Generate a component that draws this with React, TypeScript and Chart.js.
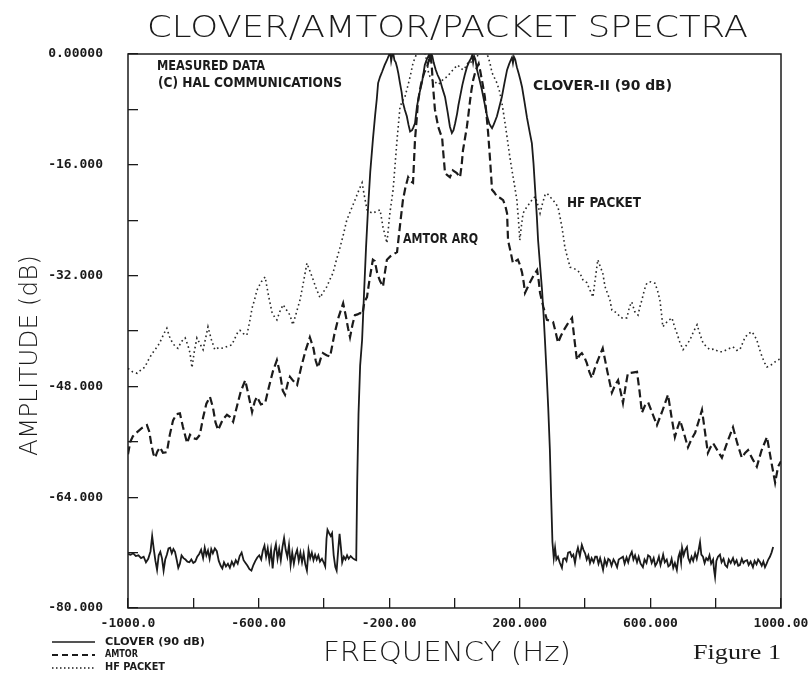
import { useEffect, useRef } from 'react';
import { Chart, registerables } from 'chart.js';

Chart.register(...registerables);

// ---------- tick labels ----------
const xTickValues = [-1000, -600, -200, 200, 600, 1000];
const xTickLabels = ['-1000.0', '-600.00', '-200.00', '200.000', '600.000', '1000.00'];
const yTickValues = [0, -16, -32, -48, -64, -80];
const yTickLabels = ['0.00000', '-16.000', '-32.000', '-48.000', '-64.000', '-80.000'];

// ---------- series: [frequency Hz, amplitude dB] ----------
const cloverSpectrum: [number, number][] = [
  [-1000, -72.2], [-992, -72.3], [-984, -72.1], [-976, -72.5], [-968, -72.4], [-960, -72.8], [-952, -72.6], [-945, -73.4],
  [-938, -72.9], [-931, -71.8], [-926, -69.6], [-921, -71.5], [-916, -73.2], [-911, -74.5], [-906, -72.4], [-901, -71.9],
  [-896, -72.8], [-891, -74.6], [-886, -73.0], [-881, -72.3], [-876, -71.4], [-871, -71.3], [-866, -72.1], [-861, -71.5],
  [-856, -71.9], [-851, -73.0], [-846, -74.2], [-841, -73.6], [-836, -72.4], [-830, -72.8], [-824, -73.0], [-818, -73.3],
  [-812, -73.4], [-806, -73.0], [-800, -73.5], [-794, -73.3], [-788, -72.6], [-782, -72.2], [-776, -71.6], [-770, -72.8],
  [-765, -71.3], [-760, -72.4], [-755, -71.7], [-750, -72.9], [-745, -71.5], [-740, -72.1], [-734, -71.4], [-728, -71.8],
  [-722, -73.2], [-716, -73.9], [-711, -74.3], [-706, -73.4], [-700, -74.0], [-694, -73.6], [-688, -74.2], [-682, -73.3],
  [-676, -73.9], [-670, -73.1], [-664, -73.6], [-658, -72.5], [-652, -72.0], [-646, -73.1], [-640, -73.5], [-634, -73.9],
  [-628, -74.4], [-622, -74.6], [-616, -73.8], [-610, -73.2], [-604, -72.7], [-598, -72.4], [-592, -73.0], [-587, -71.7],
  [-582, -71.0], [-577, -72.6], [-572, -71.4], [-567, -73.2], [-562, -71.6], [-557, -74.3], [-552, -71.8], [-547, -70.8],
  [-542, -72.9], [-537, -71.5], [-532, -73.1], [-527, -71.2], [-522, -69.9], [-517, -71.6], [-512, -72.6], [-507, -70.9],
  [-502, -73.8], [-497, -72.0], [-492, -73.6], [-487, -72.3], [-482, -71.6], [-477, -73.2], [-472, -72.0], [-467, -73.4],
  [-462, -72.1], [-457, -73.7], [-452, -74.6], [-447, -71.6], [-442, -72.8], [-437, -72.0], [-432, -73.1], [-427, -72.3],
  [-422, -73.0], [-417, -72.4], [-412, -73.3], [-406, -72.9], [-400, -73.5], [-396, -74.0], [-392, -70.0], [-389, -68.7],
  [-384, -69.2], [-379, -69.6], [-375, -69.2], [-370, -72.4], [-365, -74.1], [-361, -74.6], [-356, -71.5], [-352, -69.3],
  [-348, -71.2], [-344, -73.4], [-339, -72.6], [-334, -73.0], [-329, -72.4], [-324, -72.9], [-318, -72.5], [-312, -72.8],
  [-306, -73.0], [-301, -73.1], [-298, -62.0], [-294, -52.0], [-289, -45.0], [-283, -41.3], [-277, -34.5], [-271, -28.0],
  [-265, -22.5], [-258, -17.0], [-250, -12.4], [-243, -8.8], [-238, -6.5], [-234, -4.2], [-228, -3.3], [-222, -2.6],
  [-214, -1.6], [-207, -0.9], [-201, -0.2], [-197, 0.3], [-194, -1.0], [-191, -0.2], [-188, 0.2], [-184, -0.9],
  [-180, -1.2], [-176, -1.9], [-172, -2.8], [-167, -4.2], [-162, -5.5], [-158, -7.0], [-152, -8.1], [-146, -9.0],
  [-141, -10.2], [-136, -11.2], [-130, -11.0], [-126, -10.6], [-121, -10.0], [-118, -8.8], [-115, -7.6], [-108, -5.8],
  [-100, -4.2], [-95, -2.8], [-91, -1.6], [-86, -0.9], [-81, -0.4], [-78, -0.1], [-75, -1.0], [-72, 0.1],
  [-68, -0.3], [-64, -1.2], [-58, -2.2], [-52, -3.0], [-44, -3.8], [-37, -5.0], [-29, -6.2], [-21, -8.4],
  [-14, -10.5], [-8, -11.4], [-3, -11.0], [2, -10.0], [8, -8.6], [12, -7.4], [17, -6.2], [24, -4.5],
  [31, -3.1], [38, -1.9], [45, -1.1], [51, -0.6], [54, -0.2], [57, -1.2], [60, -0.3], [64, -0.8],
  [69, -2.3], [76, -3.6], [84, -5.2], [92, -7.1], [100, -9.0], [107, -10.1], [112, -10.5], [115, -10.7],
  [120, -10.2], [125, -9.6], [130, -9.0], [137, -7.7], [145, -6.2], [153, -4.2], [161, -2.3], [167, -1.5],
  [172, -0.9], [176, -0.5], [179, -1.3], [182, -0.4], [186, -0.8], [191, -1.9], [197, -2.9], [202, -3.8],
  [207, -4.8], [214, -6.8], [222, -9.2], [230, -11.2], [237, -12.9], [242, -15.8], [247, -19.6], [252, -23.3],
  [256, -26.9], [262, -30.5], [268, -34.0], [273, -37.8], [277, -41.3], [282, -46.0], [287, -51.0], [292, -57.0],
  [296, -64.0], [300, -70.5], [304, -72.8], [308, -71.3], [312, -73.0], [317, -72.6], [322, -73.4], [329, -74.2],
  [333, -72.9], [338, -72.8], [343, -73.2], [348, -72.0], [354, -71.9], [359, -72.6], [364, -72.3], [369, -73.5],
  [374, -72.0], [378, -71.3], [384, -72.5], [390, -70.9], [395, -71.6], [400, -72.1], [405, -73.0], [410, -72.4],
  [415, -73.5], [420, -72.8], [426, -73.4], [431, -72.6], [436, -72.6], [441, -73.6], [446, -72.8], [450, -73.5],
  [455, -74.5], [460, -73.0], [466, -73.8], [471, -72.9], [476, -73.1], [481, -73.9], [487, -73.0], [492, -73.4],
  [498, -74.1], [503, -73.0], [509, -72.8], [516, -72.6], [521, -73.6], [527, -72.7], [532, -73.4], [537, -72.5],
  [543, -71.9], [548, -73.0], [553, -72.4], [559, -73.4], [564, -72.6], [570, -73.6], [577, -74.1], [582, -73.0],
  [588, -73.5], [593, -72.4], [599, -72.6], [604, -73.5], [610, -72.8], [615, -73.9], [620, -73.5], [626, -72.6],
  [631, -73.8], [636, -72.9], [639, -72.3], [644, -73.4], [650, -73.0], [655, -74.0], [660, -73.8], [665, -72.9],
  [670, -74.2], [675, -73.5], [681, -74.5], [686, -72.6], [690, -72.0], [694, -73.4], [697, -71.3], [702, -72.4],
  [707, -71.6], [712, -71.2], [716, -72.8], [721, -73.4], [726, -72.6], [731, -73.2], [737, -72.1], [742, -72.9],
  [747, -71.8], [752, -70.5], [756, -72.3], [761, -72.6], [766, -73.5], [771, -72.8], [776, -73.1], [781, -72.4],
  [786, -73.6], [792, -73.0], [795, -74.5], [798, -75.5], [802, -73.2], [807, -72.6], [813, -72.3], [818, -73.4],
  [824, -72.9], [829, -73.8], [835, -74.1], [840, -73.0], [846, -73.5], [853, -72.8], [858, -73.6], [864, -73.1],
  [869, -73.9], [874, -73.8], [880, -72.9], [885, -73.5], [890, -73.2], [896, -73.1], [901, -73.8], [907, -73.3],
  [914, -74.1], [919, -73.2], [925, -73.7], [930, -73.0], [936, -73.4], [941, -73.9], [946, -73.3], [951, -74.1],
  [956, -73.6], [961, -73.0], [966, -72.6], [971, -72.0], [976, -71.2],
];

const amtorSpectrum: [number, number][] = [
  [-1000, -57.8], [-993, -56.0], [-985, -55.2], [-972, -54.6], [-957, -54.0], [-942, -53.6], [-935, -54.5], [-928, -56.5],
  [-922, -57.8], [-917, -58.3], [-910, -57.4], [-902, -56.8], [-893, -57.6], [-881, -57.5], [-872, -55.0], [-862, -52.9],
  [-851, -52.0], [-841, -51.9], [-832, -53.8], [-819, -56.2], [-810, -55.0], [-800, -55.5], [-790, -55.6], [-780, -55.0],
  [-770, -52.5], [-760, -50.5], [-749, -49.5], [-740, -51.0], [-732, -53.2], [-724, -54.3], [-710, -52.8], [-697, -52.1],
  [-688, -52.4], [-678, -53.1], [-667, -51.0], [-655, -48.8], [-641, -47.1], [-632, -49.0], [-620, -51.7], [-612, -50.2],
  [-605, -49.5], [-593, -50.6], [-580, -50.4], [-568, -48.0], [-556, -45.8], [-544, -44.2], [-535, -46.0], [-526, -48.6],
  [-519, -49.2], [-510, -47.4], [-504, -46.6], [-494, -47.2], [-482, -47.8], [-470, -45.3], [-456, -42.8], [-443, -40.9],
  [-432, -42.5], [-425, -44.3], [-418, -45.3], [-410, -44.0], [-403, -43.2], [-392, -43.5], [-381, -43.7], [-368, -40.5],
  [-355, -38.0], [-341, -36.0], [-333, -37.8], [-326, -39.6], [-320, -40.9], [-312, -39.0], [-305, -37.7], [-297, -37.6],
  [-289, -37.4], [-282, -37.6], [-276, -35.8], [-268, -35.1], [-260, -32.5], [-250, -29.7], [-244, -29.9], [-237, -31.6],
  [-228, -32.8], [-219, -33.6], [-213, -31.5], [-207, -29.7], [-196, -29.2], [-186, -28.9], [-176, -28.6], [-167, -24.8],
  [-158, -21.1], [-150, -19.2], [-142, -17.8], [-134, -18.4], [-127, -18.6], [-121, -12.4], [-116, -9.5], [-112, -7.0],
  [-106, -5.2], [-100, -3.8], [-92, -2.6], [-84, -1.9], [-78, -0.8], [-74, -0.2], [-70, -1.5], [-66, -4.5],
  [-60, -8.0], [-50, -10.5], [-42, -11.6], [-38, -12.0], [-35, -13.9], [-29, -17.2], [-22, -17.5], [-14, -17.8],
  [-5, -16.8], [7, -17.2], [17, -17.8], [22, -16.0], [26, -13.9], [32, -12.2], [38, -10.5], [43, -8.6],
  [48, -6.6], [52, -5.2], [57, -3.8], [63, -2.7], [69, -1.9], [74, -1.4], [79, -2.5], [86, -4.3],
  [93, -6.2], [98, -8.8], [103, -11.4], [109, -15.3], [115, -19.6], [122, -20.0], [130, -20.6], [140, -20.8],
  [149, -21.1], [156, -22.0], [161, -23.0], [164, -26.9], [172, -28.6], [179, -30.2], [187, -29.9], [194, -29.7],
  [201, -30.5], [207, -31.6], [212, -33.0], [216, -34.5], [223, -33.8], [231, -33.0], [242, -32.0], [253, -31.2],
  [258, -32.8], [262, -34.5], [272, -36.5], [283, -38.4], [292, -38.5], [302, -38.7], [310, -40.2], [317, -41.7],
  [325, -40.8], [332, -40.1], [346, -39.0], [360, -38.1], [368, -41.5], [375, -44.2], [383, -43.5], [390, -43.2],
  [398, -43.8], [405, -44.6], [413, -45.9], [421, -46.8], [429, -45.5], [436, -44.6], [445, -43.5], [454, -42.5],
  [468, -45.8], [482, -48.9], [492, -47.8], [501, -47.1], [509, -48.8], [516, -50.4], [524, -48.0], [531, -46.1],
  [545, -46.0], [559, -45.9], [567, -48.8], [574, -51.8], [583, -50.8], [593, -50.3], [607, -52.0], [620, -53.6],
  [637, -51.5], [654, -49.2], [665, -52.5], [675, -55.3], [683, -54.0], [691, -52.9], [703, -54.8], [715, -56.8],
  [726, -55.6], [737, -54.7], [748, -53.0], [758, -51.4], [767, -54.5], [776, -57.6], [784, -56.8], [792, -56.2],
  [806, -57.3], [819, -58.3], [836, -56.0], [853, -53.9], [866, -56.2], [880, -58.3], [890, -57.6], [899, -57.2],
  [913, -58.5], [926, -59.6], [940, -57.3], [957, -55.3], [970, -58.8], [982, -61.9], [991, -59.6], [1000, -58.8],
];

const packetSpectrum: [number, number][] = [
  [-1000, -45.4], [-986, -45.9], [-972, -46.1], [-960, -45.6], [-948, -45.2], [-940, -44.4], [-933, -43.8], [-922, -43.0],
  [-911, -42.3], [-904, -41.8], [-896, -41.0], [-888, -40.2], [-881, -39.6], [-873, -40.8], [-865, -41.6], [-856, -42.2],
  [-847, -42.5], [-836, -41.5], [-825, -41.0], [-817, -42.0], [-810, -43.2], [-804, -45.3], [-797, -43.0], [-789, -41.0],
  [-780, -41.8], [-770, -42.7], [-762, -41.0], [-755, -39.4], [-745, -41.2], [-734, -42.7], [-722, -42.4], [-709, -42.5],
  [-695, -42.2], [-682, -42.0], [-672, -41.0], [-664, -40.2], [-657, -39.9], [-646, -40.4], [-636, -40.6], [-628, -38.8],
  [-620, -36.7], [-612, -35.4], [-605, -34.1], [-592, -32.9], [-580, -32.2], [-570, -34.8], [-559, -37.3], [-551, -38.0],
  [-544, -38.4], [-535, -37.2], [-525, -36.2], [-514, -37.0], [-504, -37.7], [-495, -39.1], [-484, -37.3], [-473, -35.5],
  [-462, -32.8], [-452, -30.2], [-444, -31.2], [-436, -32.2], [-424, -33.8], [-412, -35.2], [-402, -34.4], [-391, -33.6],
  [-382, -32.6], [-372, -31.6], [-362, -29.8], [-351, -28.0], [-340, -26.0], [-330, -24.0], [-318, -22.6], [-305, -21.1],
  [-294, -19.8], [-283, -18.6], [-276, -20.5], [-268, -22.5], [-259, -22.8], [-250, -23.0], [-239, -22.7], [-228, -22.5],
  [-219, -25.0], [-207, -27.3], [-198, -23.0], [-188, -19.6], [-182, -16.0], [-176, -12.4], [-167, -7.7], [-160, -6.8],
  [-152, -6.2], [-144, -4.8], [-136, -3.3], [-127, -1.3], [-118, -0.2], [-110, 0.6], [-100, 1.0], [-92, 0.4],
  [-85, -1.0], [-80, -2.6], [-75, -3.3], [-67, -3.8], [-60, -4.0], [-52, -4.4], [-44, -4.2], [-34, -3.6],
  [-23, -3.3], [-14, -2.8], [-5, -2.3], [3, -1.9], [10, -1.6], [18, -2.0], [26, -2.3], [35, -1.8],
  [42, -1.2], [48, -1.3], [56, -0.9], [62, -0.6], [69, -0.4], [76, 0.2], [84, 0.8], [93, 0.5],
  [103, -0.4], [109, -1.4], [115, -2.7], [122, -3.4], [130, -4.2], [138, -5.4], [145, -7.0], [153, -9.4],
  [161, -12.0], [168, -14.4], [176, -16.8], [184, -19.0], [191, -21.1], [196, -24.0], [200, -26.9], [205, -24.8],
  [210, -23.0], [220, -22.2], [231, -21.5], [240, -20.9], [247, -20.6], [254, -21.6], [262, -23.0], [270, -21.5],
  [277, -20.4], [283, -20.1], [292, -20.6], [302, -21.1], [310, -21.6], [317, -22.1], [323, -23.5], [329, -25.0],
  [334, -26.5], [338, -27.9], [345, -29.2], [354, -30.8], [363, -30.9], [375, -31.2], [384, -31.6], [393, -32.6],
  [405, -33.0], [415, -34.1], [424, -35.1], [431, -32.5], [439, -29.7], [447, -30.8], [454, -31.6], [461, -33.6],
  [468, -34.5], [476, -35.5], [482, -37.0], [490, -37.2], [498, -37.4], [507, -38.0], [518, -38.2], [528, -38.1],
  [536, -36.5], [543, -35.8], [552, -37.2], [562, -37.7], [568, -36.5], [574, -35.5], [582, -34.0], [589, -33.1],
  [601, -32.9], [614, -33.1], [622, -34.2], [629, -35.5], [634, -37.5], [638, -39.4], [652, -38.6], [666, -38.1],
  [674, -39.4], [681, -40.3], [690, -41.6], [700, -42.7], [711, -42.0], [721, -41.3], [732, -40.1], [743, -39.1],
  [752, -40.5], [761, -41.7], [772, -42.3], [783, -42.7], [796, -42.6], [809, -43.0], [822, -43.0], [838, -42.6],
  [853, -42.3], [864, -42.8], [874, -42.7], [882, -41.8], [890, -40.9], [900, -40.4], [911, -40.1], [918, -40.6],
  [926, -41.3], [934, -42.6], [942, -43.7], [950, -44.6], [957, -45.2], [966, -45.0], [976, -44.7], [988, -44.2],
  [1000, -44.0],
];

const seriesNames = ['CLOVER (90 dB)', 'AMTOR', 'HF PACKET'];

// ---------- layout / styling (not data) ----------
const W = 811;
const H = 674;
const INK = '#1b1b1b';
const LABEL_FONT = '"DejaVu Sans Condensed", "DejaVu Sans", sans-serif';
const THIN_FONT = '"DejaVu Sans", sans-serif';

type TextItem = { text: string; x: number; y: number; w: number; font: string; rot?: boolean };

const TEXTS: TextItem[] = [
  { text: 'CLOVER/AMTOR/PACKET SPECTRA', x: 147, y: 37, w: 601, font: `200 30px ${THIN_FONT}` },
  { text: 'AMPLITUDE (dB)', x: 37, y: 456, w: 201, font: `200 24px ${THIN_FONT}`, rot: true },
  { text: 'FREQUENCY (Hz)', x: 323, y: 661, w: 248, font: `200 27px ${THIN_FONT}` },
  { text: 'Figure 1', x: 693, y: 659, w: 88, font: '21px "Liberation Serif", serif' },
  { text: 'MEASURED DATA', x: 157, y: 70, w: 108, font: `bold 14px ${LABEL_FONT}` },
  { text: '(C) HAL COMMUNICATIONS', x: 158, y: 87, w: 184, font: `bold 14px ${LABEL_FONT}` },
  { text: 'CLOVER-II (90 dB)', x: 533, y: 90, w: 139, font: `bold 14px ${LABEL_FONT}` },
  { text: 'HF PACKET', x: 567, y: 207, w: 74, font: `bold 14px ${LABEL_FONT}` },
  { text: 'AMTOR ARQ', x: 403, y: 243, w: 75, font: `bold 14px ${LABEL_FONT}` },
];

const LEGEND_ROWS = [
  { y: 642, dash: [] as number[], lw: 1.6, tx: 105, ty: 645, tw: 100 },
  { y: 655, dash: [6, 4], lw: 1.8, tx: 105, ty: 657, tw: 33 },
  { y: 668, dash: [1.5, 2.5], lw: 1.4, tx: 105, ty: 670, tw: 60 },
];

function drawFitted(ctx: CanvasRenderingContext2D, t: TextItem) {
  ctx.save();
  ctx.font = t.font;
  ctx.fillStyle = INK;
  ctx.textAlign = 'left';
  ctx.textBaseline = 'alphabetic';
  const m = ctx.measureText(t.text).width || 1;
  ctx.translate(t.x, t.y);
  if (t.rot) ctx.rotate(-Math.PI / 2);
  ctx.scale(t.w / m, 1);
  ctx.fillText(t.text, 0, 0);
  ctx.restore();
}

const decorPlugin = {
  id: 'decor',
  beforeDraw(chart: any) {
    const ctx = chart.ctx as CanvasRenderingContext2D;
    ctx.save();
    ctx.fillStyle = '#ffffff';
    ctx.fillRect(0, 0, chart.width, chart.height);
    ctx.restore();
  },
  afterDraw(chart: any) {
    const ctx = chart.ctx as CanvasRenderingContext2D;
    const a = chart.chartArea;
    ctx.save();
    ctx.strokeStyle = INK;
    ctx.lineWidth = 1.5;
    ctx.strokeRect(a.left, a.top, a.right - a.left, a.bottom - a.top);
    ctx.restore();
    TEXTS.forEach((t) => drawFitted(ctx, t));
    LEGEND_ROWS.forEach((r, i) => {
      ctx.save();
      ctx.strokeStyle = INK;
      ctx.lineWidth = r.lw;
      ctx.setLineDash(r.dash);
      ctx.beginPath();
      ctx.moveTo(52, r.y);
      ctx.lineTo(95, r.y);
      ctx.stroke();
      ctx.restore();
      drawFitted(ctx, { text: seriesNames[i], x: r.tx, y: r.ty, w: r.tw, font: `bold 10px ${LABEL_FONT}` });
    });
  },
};

export default function App() {
  const ref = useRef<HTMLCanvasElement | null>(null);

  useEffect(() => {
    if (!ref.current) return;
    const toPts = (arr: [number, number][]) => arr.map(([x, y]) => ({ x, y }));
    const tickFont = { family: '"DejaVu Sans Mono", monospace', weight: 'bold' as const, size: 13 };
    const chart = new Chart(ref.current, {
      type: 'line',
      data: {
        datasets: [
          {
            label: seriesNames[0],
            data: toPts(cloverSpectrum),
            borderColor: INK,
            borderWidth: 1.8,
            pointRadius: 0,
            tension: 0,
          },
          {
            label: seriesNames[1],
            data: toPts(amtorSpectrum),
            borderColor: INK,
            borderWidth: 2.2,
            borderDash: [8, 4],
            pointRadius: 0,
            tension: 0,
          },
          {
            label: seriesNames[2],
            data: toPts(packetSpectrum),
            borderColor: '#2a2a2a',
            borderWidth: 1.6,
            borderDash: [1.6, 3],
            pointRadius: 0,
            tension: 0,
          },
        ],
      },
      options: {
        responsive: false,
        animation: false,
        events: [],
        layout: { padding: { top: 54, right: 30, bottom: 0, left: 0 } },
        plugins: { legend: { display: false }, tooltip: { enabled: false }, title: { display: false } },
        scales: {
          x: {
            type: 'linear',
            min: -1000,
            max: 1000,
            afterFit: (s: any) => {
              s.height = 66;
              s.paddingLeft = 0;
              s.paddingRight = 0;
            },
            border: { display: false },
            grid: { drawOnChartArea: false, drawTicks: true, tickLength: -10, color: INK, lineWidth: 1.3 },
            ticks: {
              stepSize: 200,
              autoSkip: false,
              maxRotation: 0,
              padding: 18,
              color: INK,
              font: tickFont,
              callback: (v: any) => {
                const i = xTickValues.indexOf(Number(v));
                return i >= 0 ? xTickLabels[i] : '';
              },
            },
          },
          y: {
            type: 'linear',
            min: -80,
            max: 0,
            afterFit: (s: any) => {
              s.width = 128;
              s.paddingTop = 0;
              s.paddingBottom = 0;
            },
            border: { display: false },
            grid: { drawOnChartArea: false, drawTicks: true, tickLength: -10, color: INK, lineWidth: 1.3 },
            ticks: {
              stepSize: 8,
              autoSkip: false,
              padding: 35,
              color: INK,
              font: tickFont,
              callback: (v: any) => {
                const i = yTickValues.indexOf(Number(v));
                return i >= 0 ? yTickLabels[i] : '';
              },
            },
          },
        },
      },
      plugins: [decorPlugin],
    });
    return () => chart.destroy();
  }, []);

  return (
    <div style={{ position: 'absolute', left: 0, top: 0, width: W, height: H, background: '#fff' }}>
      <canvas ref={ref} width={W} height={H} style={{ display: 'block', width: W, height: H }} />
    </div>
  );
}
